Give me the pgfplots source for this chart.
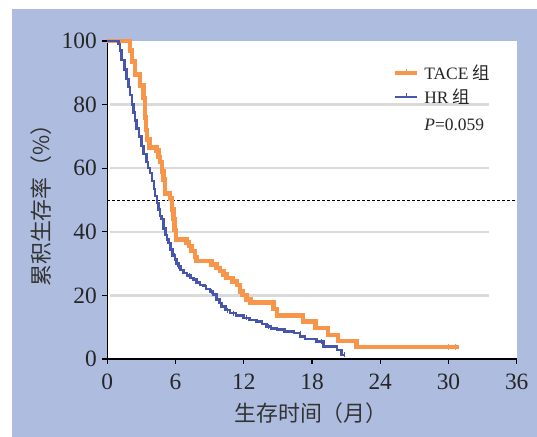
\documentclass[border=0pt]{standalone}
\usepackage{fontspec}
\setmainfont{Liberation Serif}
\newfontfamily\cjk{Noto Sans CJK SC}
\usepackage{pgfplots}
\pgfplotsset{compat=1.18}
\definecolor{bgblue}{HTML}{AEBDDF}
\definecolor{korange}{HTML}{F7964A}
\definecolor{kblue}{HTML}{4656AC}
\definecolor{gridgray}{HTML}{DADADA}
\begin{document}
\begin{tikzpicture}[x=1bp,y=1bp]
\useasboundingbox (-107.3,-78) rectangle (429.7,359);
\fill[bgblue] (-95.3,-78) rectangle (429.7,350);
\begin{axis}[
  at={(0,0)}, anchor=south west,
  scale only axis, width=409.4bp, height=318bp,
  xmin=0, xmax=36, ymin=0, ymax=100,
  axis background/.style={fill=white},
  axis x line*=bottom, axis y line*=left,
  axis line style={-, black, line width=1.4bp},
  xtick={0,6,...,36}, ytick={0,20,...,100},
  tick align=outside, major tick length=5bp,
  tick style={black, line width=1.2bp},
  /pgf/number format/assume math mode=true,
  tick label style={font=\fontsize{23.5}{23.5}\selectfont, text=black!85},
  xticklabel style={yshift=-6bp},
  yticklabel style={xshift=-2bp},
  legend style={at={(rel axis cs:0.697,0.932)}, anchor=north west, draw=none, fill=none,
    font=\fontsize{17.5}{20}\selectfont, inner sep=0pt, row sep=4bp,
    nodes={inner sep=2bp, text=black!85}},
  legend cell align=left,
  legend image code/.code={\draw[#1] (0bp,0bp) -- (22bp,0bp); \draw[#1, line width=1bp] (11bp,0bp) -- (11bp,4bp);},
  clip=false,
]
\draw[gridgray, line width=2.5bp] (axis cs:0.25,20) -- (axis cs:33.6,20);
\draw[gridgray, line width=2.5bp] (axis cs:0.25,40) -- (axis cs:33.6,40);
\draw[gridgray, line width=2.5bp] (axis cs:0.25,60) -- (axis cs:33.6,60);
\draw[gridgray, line width=2.5bp] (axis cs:0.25,80) -- (axis cs:33.6,80);
\draw[black, line width=0.8bp, dash pattern=on 3bp off 2bp] (axis cs:0,50) -- (axis cs:36,50);

\addplot[const plot, korange, line width=4.5bp] coordinates {
(0,100) (2.0,97) (2.15,93.5) (2.44,89.5) (2.88,86) (3.17,82) (3.3,76) (3.4,72) (3.5,69)
(3.7,66.5) (4.34,65.5) (4.5,63.5) (4.63,62) (4.8,59) (4.93,56.5) (5.07,52) (5.5,50.5)
(5.7,47) (5.8,44) (5.9,40.5) (6.05,37.6) (6.98,36.6) (7.2,35.5) (7.42,34) (7.7,32)
(7.86,30.8) (9.18,29.7) (9.6,28.6) (9.91,27.6) (10.2,26.5) (10.5,25.5) (11.0,24.4)
(11.4,23.3) (11.67,21.3) (11.9,20.2) (12.26,18.7) (12.6,17.8) (14.6,15.7) (14.9,13.6)
(17.2,11.8) (18.3,9.7) (19.4,7.5) (20.3,5.7) (21.9,3.8) (30.9,3.8)
};
\addlegendentry{\hspace{3bp}TACE {\cjk 组}}
\addplot[const plot, kblue, line width=2.5bp] coordinates {
(0,100) (0.97,99) (1.1,97) (1.27,94) (1.5,91) (1.7,88) (1.85,85.5) (2.0,83) (2.15,80)
(2.29,77.5) (2.45,75) (2.58,72.5) (2.8,70) (3.02,67) (3.2,64.5) (3.46,62) (3.6,60)
(3.76,58.5) (3.95,56) (4.1,53.5) (4.2,51.3) (4.35,49) (4.49,47) (4.65,45) (4.78,44)
(4.93,41) (5.1,39) (5.25,37.5) (5.37,36.5) (5.55,34.5) (5.75,32.5) (5.95,31.3) (6.1,30)
(6.25,29.2) (6.45,28) (6.69,27) (7.0,26.2) (7.3,25.5) (7.56,25) (7.85,24) (8.15,23.2)
(8.44,22.9) (8.7,22) (9.03,21.3) (9.3,20.3) (9.62,18.7) (9.85,17.6) (10.06,16.5)
(10.4,15.4) (10.8,14.4) (11.3,13.6) (11.96,12.9) (12.5,12.2) (13.1,11.8) (13.6,11)
(14.0,10.2) (14.4,9.6) (14.9,9.2) (15.6,8.6) (16.4,8.1) (16.95,7.1) (17.4,6.3)
(18.4,5.5) (19.0,3.9) (20.2,2.8) (20.6,1.3) (20.9,1.3)
};
\addlegendentry{\hspace{3bp}HR {\cjk 组}}
\addlegendimage{empty legend}
\addlegendentry{\hspace{3bp}\rule{0pt}{17bp}\textit{P}=0.059}
\addplot[only marks, mark=|, mark size=3bp, korange, line width=1bp, forget plot] coordinates {(30.0,3.8) (30.6,3.8)};
\addplot[only marks, mark=|, mark size=2.5bp, kblue, line width=1bp, forget plot] coordinates {
(5.9,32.5) (6.3,29.2) (7.2,26.2) (8.6,22.9) (9.2,21.3) (10.6,15.4) (11.1,14.4)
(12.2,12.9) (14.2,10.2) (17.0,8.1) (18.8,5.5) (20.9,1.3)};
\end{axis}
\node[font=\cjk\fontsize{22}{22}\selectfont, text=black!80] at (203.7,-54) {生存时间（月）};
\node[font=\cjk\fontsize{22}{22}\selectfont, text=black!80, rotate=90] at (-66.3,159) {累积生存率（\%）};
\end{tikzpicture}
\end{document}
